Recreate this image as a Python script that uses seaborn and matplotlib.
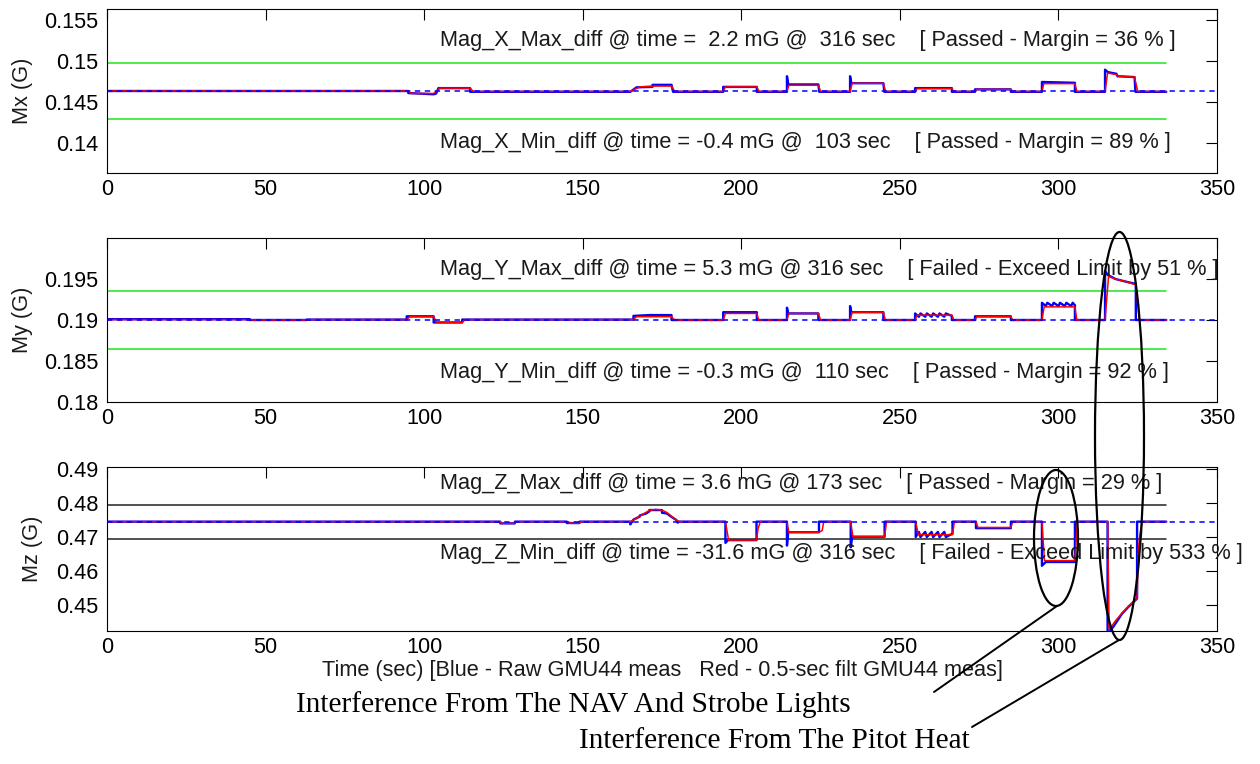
import matplotlib
matplotlib.use("Agg")
import matplotlib.pyplot as plt
import matplotlib.transforms as mtransforms
from matplotlib.patches import Ellipse
from matplotlib.ticker import FuncFormatter
import seaborn as sns

# ---------------- data (deviations in mG from baseline) ----------------
t_end = 334

mx_base = 0.1463
mx_limit_mG = 3.4
mx_raw_t = [0, 95, 95, 103, 103.8, 104.5, 114.5, 114.5, 165, 167, 172, 172, 178, 178.5, 194.3, 194.3,
            204.9, 204.9, 214.4, 214.4, 214.8, 224.3, 224.6, 234.3, 234.3, 234.7, 244.8, 245.1, 254.8,
            254.8, 266.4, 266.4, 273.7, 273.7, 285, 285, 294.8, 294.8, 305.2, 305.2, 314.7, 314.7,
            315.6, 318.3, 318.6, 324, 324.3, 334]
mx_raw_mG = [0, 0, -0.25, -0.4, -0.3, 0.35, 0.35, -0.1, -0.1, 0.45, 0.5, 0.75, 0.75, -0.1, -0.1, 0.5,
             0.5, -0.1, -0.1, 1.8, 0.8, 0.8, -0.1, -0.1, 1.8, 0.95, 0.95, -0.1, -0.1,
             0.35, 0.35, -0.1, -0.1, 0.2, 0.2, -0.1, -0.1, 1.1, 1.0, -0.1, -0.1, 2.6,
             2.3, 2.1, 1.8, 1.7, -0.1, -0.1]
mx_filt_t = [0, 95, 96, 103, 105, 114.5, 115.5, 165, 168, 172.5, 178, 179, 194.3, 195, 204.9, 205.6,
             214.4, 215, 224.3, 225, 234.3, 235, 244.8, 245.5, 254.8, 255.5, 266.4, 267, 273.7, 274.3,
             285, 285.6, 294.8, 295.4, 305.2, 305.8, 314.7, 315.5, 318.3, 319, 324, 325, 334]
mx_filt_mG = [0, 0, -0.3, -0.3, 0.35, 0.35, -0.05, -0.05, 0.5, 0.6, 0.6, -0.05, -0.05, 0.5, 0.5, -0.05,
              -0.05, 0.7, 0.7, -0.05, -0.05, 0.95, 0.95, -0.05, -0.05, 0.3, 0.3, -0.05, -0.05, 0.2,
              0.2, -0.05, -0.05, 0.9, 0.9, -0.05, -0.05, 2.2, 2.0, 1.8, 1.7, -0.05, -0.05]

my_base = 0.19
my_limit_mG = 3.5
my_raw_t = [0, 45, 45, 63, 63, 94.5, 94.5, 103, 103, 112, 112, 166, 166, 171, 178, 178, 194.3, 194.3,
            204.9, 204.9, 214.4, 214.4, 214.8, 224.3, 224.3, 234.3, 234.3, 234.7, 244.8, 244.8, 254.8,
            254.8, 256, 256.5, 258, 258.5, 260, 260.5, 262, 262.5, 264, 264.5, 266.4, 266.4, 273.7,
            273.7, 285, 285, 294.8, 294.8, 296, 296.5, 298, 298.5, 300, 300.5, 302, 302.5, 304, 304.5,
            305.2, 305.2, 314.7, 314.7, 315.5, 318, 321, 324.4, 324.4, 334]
my_raw_mG = [0.1, 0.1, 0, 0, 0.05, 0.05, 0.45, 0.45, -0.3, -0.3, 0.05, 0.05, 0.5, 0.6, 0.6, 0, 0, 0.95,
             0.95, 0, 0, 1.5, 0.8, 0.8, 0, 0, 1.7, 0.95, 0.95, 0, 0,
             0.8, 0.4, 0.8, 0.4, 0.8, 0.4, 0.8, 0.4, 0.8, 0.4, 0.8, 0.5, 0, 0,
             0.45, 0.45, 0, 0, 2.1, 1.7, 2.1, 1.7, 2.1, 1.7, 2.1, 1.7, 2.1, 1.7, 2.1,
             1.8, 0, 0, 6.0, 5.5, 5.0, 4.7, 4.4, 0, 0]
my_filt_t = [0, 45, 46, 63, 64, 94.5, 95.5, 103, 104, 112, 113, 166, 167, 178, 179, 194.3, 195, 204.9,
             205.5, 214.4, 215, 224.3, 225, 234.3, 235, 244.8, 245.4, 254.8, 255.5, 266.4, 267, 273.7,
             274.3, 285, 285.6, 294.8, 295.5, 305.2, 305.8, 314.7, 315.8, 318, 321, 324.4, 325.5, 334]
my_filt_mG = [0.05, 0.05, 0, 0, 0.05, 0.05, 0.4, 0.4, -0.3, -0.3, 0.05, 0.05, 0.4, 0.4, 0, 0, 0.8, 0.8,
              0, 0, 0.8, 0.8, 0, 0, 0.95, 0.95, 0, 0, 0.6, 0.6, 0, 0,
              0.4, 0.4, 0, 0, 1.6, 1.6, 0, 0, 5.3, 5.0, 4.7, 4.3, 0, 0]

mz_base = 0.4745
mz_limit_mG = 5.0
mz_raw_t = [0, 124, 124, 128.6, 128.6, 145, 145, 149, 149, 165, 165, 166, 168, 168, 170, 171, 171, 175,
            175, 176.5, 178, 179.5, 180, 180, 195, 195, 195.8, 204.8, 204.8, 214.4, 214.4, 214.8, 224.5,
            224.5, 234.5, 234.5, 235, 245.2, 245.2, 255, 255, 256, 256.5, 258, 258.5, 260, 260.5, 262,
            262.5, 264, 264.5, 266.6, 266.6, 274, 274, 285, 285, 294.8, 294.8, 296, 305.2, 305.2, 315.5,
            315.5, 317.5, 320, 322, 324.8, 324.8, 334]
mz_raw_mG = [0, 0, -0.5, -0.5, 0, 0, -0.4, -0.4, 0, 0, -0.8, 0.6, 1.5, 1.8, 2.4, 3.0, 3.4, 3.4,
             2.6, 2.4, 1.4, 0.5, -0.3, 0, 0, -6.2, -5.4, -5.4, 0, 0, -7.0, -3.1, -3.1,
             0, 0, -7.5, -4.4, -4.4, 0, 0, -4.5, -3, -4.5, -3, -4.5, -3, -4.5, -3,
             -4.5, -3, -4.5, -3.5, 0, 0, -1.9, -1.9, 0, 0, -12.9, -11.8, -11.8, 0, 0,
             -33, -30.5, -27, -25, -22.5, 0, 0]
mz_filt_t = [0, 124, 124.5, 128.5, 129, 145, 145.5, 149, 149.5, 165, 167, 169, 171, 173, 175, 176.5,
             178, 179.5, 180.5, 195, 196, 204.8, 205.3, 206, 214.4, 215, 224.5, 225.5, 226, 234.5, 235.2,
             245.2, 245.8, 255, 255.8, 266.6, 267.2, 274, 274.6, 285, 285.6, 294.8, 295.6, 305.2, 305.6,
             306, 315.5, 316, 318, 320, 322, 324.8, 325.2, 325.8, 326.5, 334]
mz_filt_mG = [0, 0, -0.5, -0.5, 0, 0, -0.4, -0.4, 0, 0, 1.0, 2.2, 3.3, 3.6, 3.4, 2.7,
              1.6, 0.5, 0, 0, -5.4, -5.4, -2, 0, 0, -3.1, -3.1, -2.6, 0, 0, -4.4,
              -4.4, 0, 0, -3.8, -3.8, 0, 0, -1.7, -1.7, 0, 0, -11.4, -11.4, -5,
              0, 0, -31.6, -29, -26.8, -24.8, -22.4, -8, -3, 0, 0]

x_ticks = [0, 50, 100, 150, 200, 250, 300, 350]
mx_ticks = [0.14, 0.145, 0.15, 0.155]
my_ticks = [0.18, 0.185, 0.19, 0.195]
mz_ticks = [0.45, 0.46, 0.47, 0.48, 0.49]

mx_texts = ["Mag_X_Max_diff @ time =  2.2 mG @  316 sec    [ Passed - Margin = 36 % ]",
            "Mag_X_Min_diff @ time = -0.4 mG @  103 sec    [ Passed - Margin = 89 % ]"]
my_texts = ["Mag_Y_Max_diff @ time = 5.3 mG @ 316 sec    [ Failed - Exceed Limit by 51 % ]",
            "Mag_Y_Min_diff @ time = -0.3 mG @  110 sec    [ Passed - Margin = 92 % ]"]
mz_texts = ["Mag_Z_Max_diff @ time = 3.6 mG @ 173 sec    [ Passed - Margin = 29 % ]",
            "Mag_Z_Min_diff @ time = -31.6 mG @ 316 sec    [ Failed - Exceed Limit by 533 % ]"]
xlabel = "Time (sec) [Blue - Raw GMU44 meas   Red - 0.5-sec filt GMU44 meas]"
note1 = "Interference From The NAV And Strobe Lights"
note2 = "Interference From The Pitot Heat"

# ---------------- style ----------------
sns.set_style("white")
FS = 15.7
plt.rcParams.update({
    "font.family": ["Liberation Sans", "DejaVu Sans"],
    "font.size": FS,
    "axes.edgecolor": "black",
    "axes.linewidth": 0.8,
    "xtick.direction": "in", "ytick.direction": "in",
    "xtick.top": True, "ytick.right": True,
    "xtick.major.size": 8, "ytick.major.size": 8,
    "xtick.major.width": 0.8, "ytick.major.width": 0.8,
    "xtick.color": "black", "ytick.color": "black",
    "xtick.labelsize": FS, "ytick.labelsize": FS,
    "text.color": "#1a1a1a", "axes.labelcolor": "#1a1a1a",
})

W, H = 1260, 764
fig = plt.figure(figsize=(W / 100, H / 100), dpi=100)
fig.patch.set_facecolor("white")

L = 107 / W
AW = (1217 - 107) / W
AH = 164 / H

panels = [
    dict(top=9, base=mx_base, lim=mx_limit_mG, lim_color="#1ee61e", ylim=(mx_base - 0.010, mx_base + 0.010),
         rt=mx_raw_t, rv=mx_raw_mG, ft=mx_filt_t, fv=mx_filt_mG, ticks=mx_ticks, label="Mx (G)",
         texts=mx_texts, ty=(0.81, 0.185), lx=-0.0667),
    dict(top=238, base=my_base, lim=my_limit_mG, lim_color="#1ee61e", ylim=(0.18, 0.20),
         rt=my_raw_t, rv=my_raw_mG, ft=my_filt_t, fv=my_filt_mG, ticks=my_ticks, label="My (G)",
         texts=my_texts, ty=(0.805, 0.18), lx=-0.0667),
    dict(top=467, base=mz_base, lim=mz_limit_mG, lim_color="#222222", ylim=(mz_base - 0.032, mz_base + 0.016),
         rt=mz_raw_t, rv=mz_raw_mG, ft=mz_filt_t, fv=mz_filt_mG, ticks=mz_ticks, label="Mz (G)",
         texts=mz_texts, ty=(0.90, 0.47), lx=-0.0577),
]

fmt = FuncFormatter(lambda v, p: ("%g" % round(v, 4)))

axes = []
for p in panels:
    ax = fig.add_axes([L, 1 - (p["top"] + 164) / H, AW, AH])
    axes.append(ax)
    raw_y = [p["base"] + v / 1000.0 for v in p["rv"]]
    filt_y = [p["base"] + v / 1000.0 for v in p["fv"]]
    # limit lines
    for s in (1, -1):
        sns.lineplot(x=[0, t_end], y=[p["base"] + s * p["lim"] / 1000.0] * 2, ax=ax,
                     color=p["lim_color"], lw=1.1, estimator=None, sort=False, legend=False)
    sns.lineplot(x=p["rt"], y=raw_y, ax=ax, color="#0000ff", lw=1.7, estimator=None, sort=False,
                 legend=False)
    sns.lineplot(x=p["ft"], y=filt_y, ax=ax, color="#ff0000", lw=1.1, estimator=None, sort=False,
                 legend=False)
    ax.axhline(p["base"], color="#0000ff", lw=1.1, dashes=(3.5, 3.0), zorder=5)
    ax.set_xlim(0, 350)
    ax.set_ylim(*p["ylim"])
    ax.set_xticks(x_ticks)
    ax.set_yticks(p["ticks"])
    ax.yaxis.set_major_formatter(fmt)
    ax.tick_params(axis="x", pad=4)
    ax.tick_params(axis="y", pad=6)
    ax.set_ylabel(p["label"], fontsize=FS)
    ax.yaxis.set_label_coords(p["lx"], 0.5)
    ax.set_xlabel("")
    for sp in ax.spines.values():
        sp.set_visible(True)
        sp.set_color("black")
        sp.set_linewidth(0.8)
    tr = mtransforms.blended_transform_factory(ax.transData, ax.transAxes)
    for txt, yy in zip(p["texts"], p["ty"]):
        ax.text(105, yy, txt, transform=tr, ha="left", va="center", fontsize=FS, zorder=6)

axes[-1].set_xlabel(xlabel, fontsize=FS, labelpad=2)

# ---------------- overlay annotations (pixel space) ----------------
ov = fig.add_axes([0, 0, 1, 1], zorder=20)
ov.set_xlim(0, W)
ov.set_ylim(H, 0)
ov.axis("off")
ov.patch.set_alpha(0)
ov.add_patch(Ellipse((1056, 538), 44, 136, fill=False, ec="black", lw=1.6))
ov.add_patch(Ellipse((1119.5, 436), 49, 408, fill=False, ec="black", lw=1.6))
ov.plot([1057, 934], [606, 692], color="black", lw=1.4)
ov.plot([1119, 972], [640, 727], color="black", lw=1.4)
ov.text(851, 705, note1, ha="right", va="center", fontsize=21.2,
        family=["Liberation Serif", "DejaVu Serif"], color="black")
ov.text(970, 741, note2, ha="right", va="center", fontsize=21.2,
        family=["Liberation Serif", "DejaVu Serif"], color="black")

fig.savefig("out.png", dpi=100, facecolor="white")
